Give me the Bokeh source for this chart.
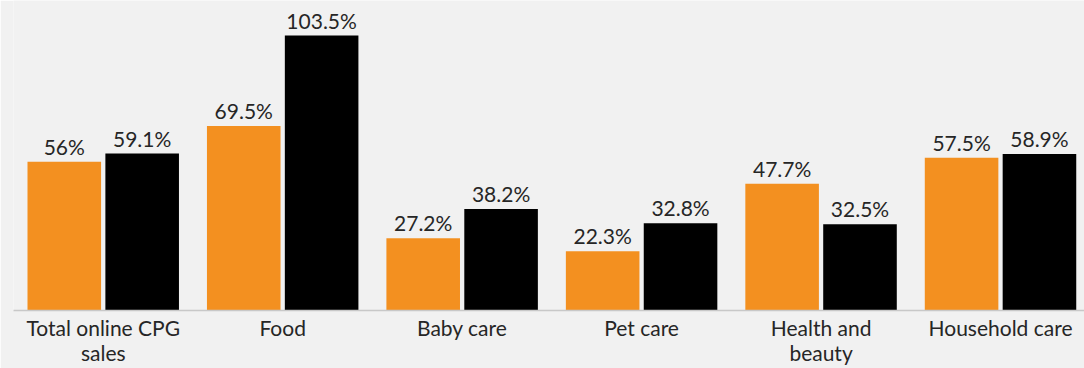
from bokeh.plotting import figure
from bokeh.models import ColumnDataSource, Range1d, FixedTicker
from bokeh.embed import file_html
from bokeh.resources import INLINE
from bokeh.core.properties import value

categories = ["Total online CPG\nsales", "Food", "Baby care", "Pet care", "Health and\nbeauty", "Household care"]
series_a = [56, 69.5, 27.2, 22.3, 47.7, 57.5]
series_b = [59.1, 103.5, 38.2, 32.8, 32.5, 58.9]
labels_a = ["56%", "69.5%", "27.2%", "22.3%", "47.7%", "57.5%"]
labels_b = ["59.1%", "103.5%", "38.2%", "32.8%", "32.5%", "58.9%"]

ORANGE = "#F39020"
BLACK = "#000000"
BG = "#F1F1F1"
TXT = "#262626"
FONT = "Lato"

centers = [i + 0.5 for i in range(len(categories))]
off = 0.217
bw = 0.41

src_a = ColumnDataSource(dict(x=[c - off for c in centers], top=series_a, lab=labels_a))
src_b = ColumnDataSource(dict(x=[c + off for c in centers], top=series_b, lab=labels_b))

p = figure(width=1084, height=368, output_backend="svg", toolbar_location=None,
           x_range=Range1d(0, 5.968), y_range=Range1d(0, 116.7),
           min_border_left=13, min_border_right=0, min_border_top=0, min_border_bottom=58,
           background_fill_color=BG, border_fill_color=BG, outline_line_color=None)

p.vbar(x="x", top="top", width=bw, source=src_a, color=ORANGE, line_color=None)
p.vbar(x="x", top="top", width=bw, source=src_b, color=BLACK, line_color=None)

for s in (src_a, src_b):
    p.text(x="x", y="top", text="lab", source=s, text_align="center", text_baseline="bottom",
           y_offset=-3, text_font=value(FONT), text_font_size="21px", text_color=TXT)

p.yaxis.visible = False
p.grid.visible = False
xa = p.xaxis[0]
xa.ticker = FixedTicker(ticks=centers)
xa.major_label_overrides = {c: lab for c, lab in zip(centers, categories)}
xa.major_tick_line_color = None
xa.minor_tick_line_color = None
xa.major_tick_out = 0
xa.axis_line_color = "#c8c8c8"
xa.axis_line_width = 1.5
xa.major_label_text_font = FONT
xa.major_label_text_font_size = "21px"
xa.major_label_text_color = TXT
xa.major_label_text_line_height = 1.0
xa.major_label_standoff = 4

open("out.html", "w").write(file_html(p, INLINE))
